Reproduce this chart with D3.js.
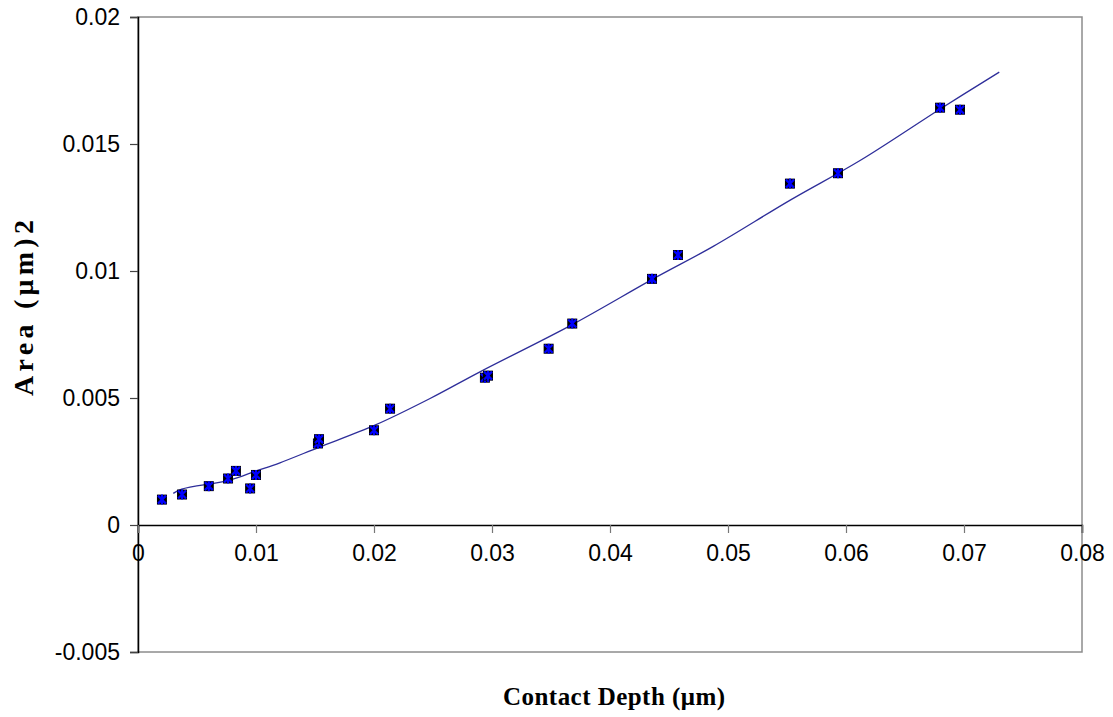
<!DOCTYPE html>
<html>
<head>
<meta charset="utf-8">
<script src="https://cdn.jsdelivr.net/npm/d3@7"></script>
<style>
    body { margin: 0; background: #fff; }
    svg { display: block; }
</style>
</head>
<body>
<div id="chart"></div>
<script>
// measured points (contact depth in um, area in um^2)
const depth = [0.00203, 0.00373, 0.0060, 0.00763, 0.0083, 0.0095, 0.0100, 0.01525, 0.01534,
    0.0200, 0.02136, 0.0294, 0.02966, 0.0348, 0.0368, 0.04356, 0.04576, 0.05525, 0.05932, 0.06797, 0.06966];
const area = [0.00100, 0.00120, 0.00153, 0.00183, 0.00213, 0.00144, 0.00197, 0.00321, 0.00338,
    0.00373, 0.00458, 0.00580, 0.00588, 0.00694, 0.00793, 0.00969, 0.01063, 0.01344, 0.01385, 0.01643, 0.01635];

// trendline
const fitDepth = [0.00299, 0.0037, 0.0078, 0.00997, 0.01203, 0.01528, 0.02008, 0.02475, 0.02898,
    0.03684, 0.04362, 0.04875, 0.05531, 0.06119, 0.06805, 0.07299];
const fitArea = [0.001246, 0.001415, 0.00177, 0.00212, 0.00245, 0.00305, 0.00393, 0.00498, 0.00603,
    0.0079, 0.00968, 0.01097, 0.0128, 0.01435, 0.0164, 0.01783];

const xTicks = [0, 0.01, 0.02, 0.03, 0.04, 0.05, 0.06, 0.07, 0.08];
const yTicks = [-0.005, 0, 0.005, 0.01, 0.015, 0.02];

const width = 1113, height = 717;
const plot = { left: 138, right: 1082, top: 17, bottom: 652 };

const svg = d3.select('#chart').append('svg')
    .attr('width', width)
    .attr('height', height);

const x = d3.scaleLinear().domain([0, 0.08]).range([plot.left, plot.right]);
const y = d3.scaleLinear().domain([-0.005, 0.02]).range([plot.bottom, plot.top]);

// plot frame
svg.append('rect')
    .attr('x', plot.left)
    .attr('y', plot.top)
    .attr('width', plot.right - plot.left)
    .attr('height', plot.bottom - plot.top)
    .attr('fill', 'none')
    .attr('stroke', '#8c8c8c')
    .attr('stroke-width', 1.5);

// y axis
const yAxis = d3.axisLeft(y)
    .tickValues(yTicks)
    .tickSize(8)
    .tickPadding(10)
    .tickFormat(d => d === 0 ? '0' : String(+d.toFixed(3)));

svg.append('g')
    .attr('transform', `translate(${plot.left},0)`)
    .call(yAxis)
    .call(g => g.select('.domain').attr('stroke', '#000').attr('stroke-width', 1.5))
    .call(g => g.selectAll('.tick line').attr('stroke', '#444').attr('stroke-width', 1.2))
    .call(g => g.selectAll('.tick text')
        .attr('font-family', 'Liberation Sans, Arial, sans-serif')
        .attr('font-size', 23)
        .attr('fill', '#000'));

// x axis sits at y = 0
const xAxis = d3.axisBottom(x)
    .tickValues(xTicks)
    .tickSize(8)
    .tickPadding(12)
    .tickFormat(d => d === 0 ? '0' : String(+d.toFixed(2)));

svg.append('g')
    .attr('transform', `translate(0,${y(0)})`)
    .call(xAxis)
    .call(g => g.select('.domain').attr('stroke', '#000').attr('stroke-width', 1.5))
    .call(g => g.selectAll('.tick line').attr('stroke', '#777').attr('stroke-width', 1.2))
    .call(g => g.selectAll('.tick text')
        .attr('font-family', 'Liberation Sans, Arial, sans-serif')
        .attr('font-size', 23)
        .attr('fill', '#000'));

// trendline
const fit = fitDepth.map((d, i) => [d, fitArea[i]]);
svg.append('path')
    .datum(fit)
    .attr('fill', 'none')
    .attr('stroke', '#2e2e9a')
    .attr('stroke-width', 1.3)
    .attr('d', d3.line()
        .x(d => x(d[0]))
        .y(d => y(d[1]))
        .curve(d3.curveCatmullRom));

// markers: black square with a blue star
const pts = depth.map((d, i) => ({ x: depth[i], y: area[i] }));
const s = 5;
const marks = svg.append('g').selectAll('g')
    .data(pts)
    .enter()
    .append('g')
    .attr('transform', d => `translate(${x(d.x)},${y(d.y)})`);

marks.append('rect')
    .attr('x', -s)
    .attr('y', -s)
    .attr('width', 2 * s)
    .attr('height', 2 * s)
    .attr('fill', '#000');

marks.append('path')
    .attr('d', `M${-s + 1},${-s + 1}L${s - 1},${s - 1}M${-s + 1},${s - 1}L${s - 1},${-s + 1}M0,${-s}L0,${s}`)
    .attr('stroke', '#0000ff')
    .attr('stroke-width', 2.2);

// axis titles
svg.append('text')
    .attr('x', 614)
    .attr('y', 705)
    .attr('text-anchor', 'middle')
    .attr('font-family', 'Liberation Serif, Times New Roman, serif')
    .attr('font-weight', 'bold')
    .attr('font-size', 25)
    .attr('textLength', 222)
    .attr('lengthAdjust', 'spacing')
    .text('Contact Depth (μm)');

svg.append('text')
    .attr('transform', 'translate(33,308) rotate(-90)')
    .attr('text-anchor', 'middle')
    .attr('font-family', 'Liberation Serif, Times New Roman, serif')
    .attr('font-weight', 'bold')
    .attr('font-size', 28)
    .attr('textLength', 176)
    .attr('lengthAdjust', 'spacing')
    .text('Area (μm)2');
</script>
</body>
</html>
